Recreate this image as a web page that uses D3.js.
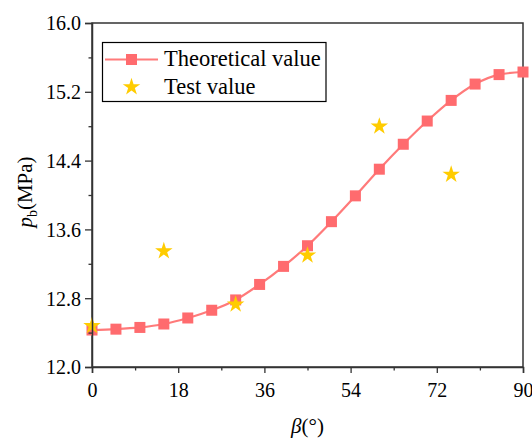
<!DOCTYPE html>
<html>
<head>
<meta charset="utf-8">
<script src="https://cdn.jsdelivr.net/npm/d3@7/dist/d3.min.js"></script>
<style>
  html, body { margin: 0; padding: 0; background: #fff; }
  svg { display: block; }
</style>
</head>
<body>
<svg id="chart" width="532" height="439"></svg>
<script>
// Angle β (degrees) for the theoretical curve
const betaTheory = [0, 5, 10, 15, 20, 25, 30, 35, 40, 45, 50, 55, 60, 65, 70, 75, 80, 85, 90];
// Theoretical breakdown pressure p_b (MPa)
const pbTheory = [12.43, 12.44, 12.46, 12.50, 12.57, 12.66, 12.78, 12.96, 13.17, 13.41, 13.69, 13.99, 14.30, 14.59, 14.86, 15.10, 15.29, 15.40, 15.43];
// Angle β (degrees) for laboratory tests
const betaTest = [0, 15, 30, 45, 60, 75];
// Measured breakdown pressure p_b (MPa)
const pbTest = [12.49, 13.36, 12.74, 13.31, 14.81, 14.25];

const xTicks = [0, 18, 36, 54, 72, 90];
const yTicks = [12.0, 12.8, 13.6, 14.4, 15.2, 16.0];
const xMinor = [9, 27, 45, 63, 81];
const yMinor = [12.4, 13.2, 14.0, 14.8, 15.6];

const seriesNames = ["Theoretical value", "Test value"];

const SERIF = '"Liberation Serif"';
const lineColor = "#ff7a7a";
const squareColor = "#ff6b6e";
const starColor = "#ffcc00";
const axisColor = "#333";

const margin = { left: 92, right: 9, top: 23, bottom: 72 };
const W = 532, H = 439;
const svg = d3.select("#chart");

const x = d3.scaleLinear().domain([0, 90]).range([margin.left, W - margin.right]);
const y = d3.scaleLinear().domain([12.0, 16.0]).range([H - margin.bottom, margin.top]);

const plot = svg.append("g");

// Frame (top and right sides carry no ticks)
plot.append("rect")
  .attr("x", x(0)).attr("y", y(16))
  .attr("width", x(90) - x(0)).attr("height", y(12) - y(16))
  .attr("fill", "none").attr("stroke", axisColor).attr("stroke-width", 1.5);

// Bottom axis
const xAxis = svg.append("g").attr("transform", `translate(0,${y(12)})`)
  .call(d3.axisBottom(x).tickValues(xTicks).tickFormat(d3.format("d")).tickSize(6).tickPadding(10));
svg.append("g").attr("transform", `translate(0,${y(12)})`)
  .call(d3.axisBottom(x).tickValues(xMinor).tickFormat("").tickSize(3.5))
  .call(g => g.select(".domain").remove());

// Left axis
const yAxis = svg.append("g").attr("transform", `translate(${x(0)},0)`)
  .call(d3.axisLeft(y).tickValues(yTicks).tickFormat(d3.format(".1f")).tickSize(7).tickPadding(4));
svg.append("g").attr("transform", `translate(${x(0)},0)`)
  .call(d3.axisLeft(y).tickValues(yMinor).tickFormat("").tickSize(3.5))
  .call(g => g.select(".domain").remove());

// Axis groups default to sans-serif; switch them to the serif face
svg.selectAll("g").attr("font-family", null).attr("font-size", null);

svg.selectAll(".tick line").attr("stroke", axisColor).attr("stroke-width", 1.3);
svg.selectAll(".domain").attr("stroke", axisColor).attr("stroke-width", 1.5);
svg.selectAll(".tick text").style("font-size", "20px");
yAxis.selectAll(".tick text").attr("dy", "0.34em");

// Axis titles
svg.append("text")
  .attr("x", (x(0) + x(90)) / 2).attr("y", 433)
  .attr("text-anchor", "middle").style("font-size", "21px")
  .call(t => {
    t.append("tspan").style("font-style", "italic").text("β");
    t.append("tspan").text("(°)");
  });

svg.append("text")
  .attr("transform", `translate(32,${(y(12) + y(16)) / 2 - 3}) rotate(-90)`)
  .attr("text-anchor", "middle").style("font-size", "21px")
  .call(t => {
    t.append("tspan").style("font-style", "italic").text("p");
    t.append("tspan").style("font-size", "14px").attr("dy", 5).text("b");
    t.append("tspan").attr("dy", -5).text("(MPa)");
  });

// Theoretical curve
const theory = betaTheory.map((b, i) => ({ b, p: pbTheory[i] }));
const line = d3.line().x(d => x(d.b)).y(d => y(d.p)).curve(d3.curveMonotoneX);
plot.append("path").datum(theory)
  .attr("d", line).attr("fill", "none")
  .attr("stroke", lineColor).attr("stroke-width", 2.2);

const sq = 11;
plot.selectAll(".sq").data(theory).join("rect")
  .attr("class", "sq")
  .attr("x", d => x(d.b) - sq / 2).attr("y", d => y(d.p) - sq / 2)
  .attr("width", sq).attr("height", sq).attr("fill", squareColor);

// Test points
const star = d3.symbol().type(d3.symbolStar).size(95);
const tests = betaTest.map((b, i) => ({ b, p: pbTest[i] }));
plot.selectAll(".star").data(tests).join("path")
  .attr("class", "star")
  .attr("transform", d => `translate(${x(d.b)},${y(d.p) + 1})`)
  .attr("d", star).attr("fill", starColor);

// Legend
const lg = svg.append("g");
lg.append("rect").attr("x", 102.5).attr("y", 42.5).attr("width", 223.5).attr("height", 59)
  .attr("fill", "#fff").attr("stroke", "#000").attr("stroke-width", 1.2);
lg.append("line").attr("x1", 105).attr("x2", 158).attr("y1", 59.5).attr("y2", 59.5)
  .attr("stroke", lineColor).attr("stroke-width", 2.2);
lg.append("rect").attr("x", 131.5 - sq / 2).attr("y", 59.5 - sq / 2)
  .attr("width", sq).attr("height", sq).attr("fill", squareColor);
lg.append("path").attr("transform", "translate(131.5,87)").attr("d", star).attr("fill", starColor);
lg.selectAll(".lt").data(seriesNames).join("text")
  .attr("class", "lt")
  .attr("x", 164).attr("y", (d, i) => 65.5 + i * 28)
  .style("font-size", "22.5px").text(d => d);

// Serif typeface for every label
svg.selectAll("text").style("font-family", SERIF).attr("fill", "#000");
</script>
</body>
</html>
